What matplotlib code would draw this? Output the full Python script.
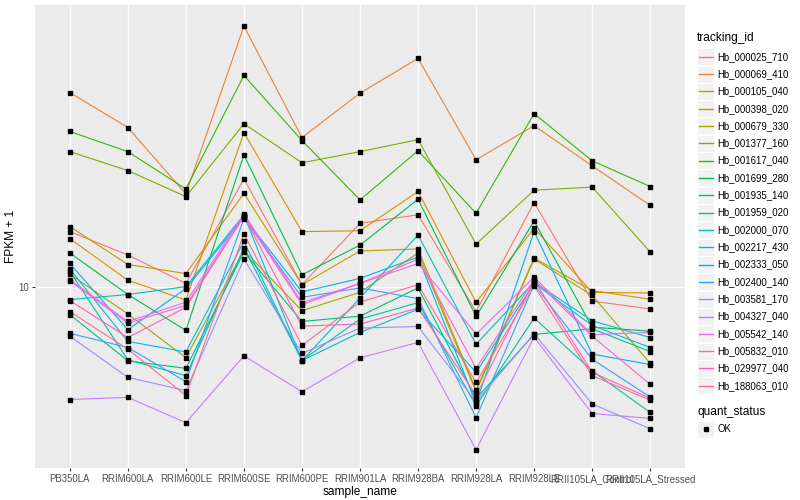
import matplotlib

matplotlib.use("Agg")
import matplotlib.pyplot as plt
from matplotlib.lines import Line2D
from matplotlib.patches import Rectangle

plt.rcParams["font.family"] = ["Liberation Sans", "DejaVu Sans"]

samples = [
    "PB350LA", "RRIM600LA", "RRIM600LE", "RRIM600SE", "RRIM600PE", "RRIM901LA",
    "RRIM928BA", "RRIM928LA", "RRIM928LE", "RRII105LA_Control", "RRII105LA_Stressed",
]

tracking_ids = [
    "Hb_000025_710", "Hb_000069_410", "Hb_000105_040", "Hb_000398_020", "Hb_000679_330",
    "Hb_001377_160", "Hb_001617_040", "Hb_001699_280", "Hb_001935_140", "Hb_001959_020",
    "Hb_002000_070", "Hb_002217_430", "Hb_002333_050", "Hb_002400_140", "Hb_003581_170",
    "Hb_004327_040", "Hb_005542_140", "Hb_005832_010", "Hb_029977_040", "Hb_188063_010",
]

# FPKM + 1, one list per tracking_id, in sample order
fpkm = [
    [15.3, 12.8, 10.3, 22.9, 10.2, 16.3, 17.4, 8.3, 19.1, 9.0, 8.47],
    [44.3, 33.9, 20.4, 73.6, 31.4, 44.1, 57.5, 26.5, 34.4, 25.3, 18.7],
    [14.5, 10.55, 9.07, 32.6, 15.3, 15.4, 20.8, 8.91, 15.7, 9.62, 9.57],
    [15.9, 11.9, 11.1, 20.5, 10.2, 13.2, 13.4, 4.56, 12.5, 9.75, 9.12],
    [11.05, 8.15, 5.84, 13.25, 8.36, 9.62, 13.0, 4.50, 12.4, 9.40, 5.59],
    [28.2, 24.4, 20.0, 34.9, 25.9, 28.2, 30.9, 13.9, 21.0, 21.5, 13.1],
    [32.9, 28.2, 21.2, 50.5, 30.7, 19.5, 28.4, 17.6, 37.7, 26.3, 21.6],
    [13.0, 9.46, 7.19, 27.5, 11.0, 13.8, 19.6, 8.0, 16.6, 7.37, 7.15],
    [8.11, 5.70, 5.38, 13.1, 7.70, 8.02, 9.95, 4.27, 6.97, 7.28, 6.12],
    [11.3, 5.74, 5.09, 13.5, 5.72, 7.84, 8.89, 4.04, 7.91, 5.28, 3.84],
    [9.10, 9.46, 10.05, 17.4, 5.70, 9.21, 14.9, 6.47, 10.4, 7.74, 6.81],
    [11.5, 6.61, 6.10, 14.2, 5.71, 7.08, 8.45, 5.22, 10.3, 7.47, 6.31],
    [12.0, 7.23, 9.90, 17.1, 9.65, 10.7, 12.6, 4.11, 15.3, 6.00, 5.54],
    [7.03, 6.31, 4.86, 16.9, 9.26, 9.95, 9.17, 3.69, 10.2, 5.77, 4.32],
    [6.88, 5.02, 4.54, 12.4, 6.03, 7.32, 7.41, 4.17, 7.01, 4.10, 3.39],
    [4.24, 4.31, 3.55, 5.92, 4.50, 5.83, 6.56, 2.89, 6.83, 3.81, 3.67],
    [10.6, 7.70, 8.93, 17.5, 8.89, 10.3, 12.0, 6.99, 10.8, 6.96, 7.08],
    [10.5, 7.60, 8.71, 17.2, 8.76, 10.3, 12.4, 5.38, 10.6, 6.88, 4.76],
    [9.03, 6.81, 8.58, 17.2, 7.43, 7.55, 8.53, 4.37, 10.55, 5.22, 4.28],
    [8.30, 6.23, 4.37, 15.05, 6.41, 8.93, 10.2, 4.83, 10.1, 5.09, 4.22],
]

colors = [
    "#F8766D", "#EA8331", "#D89000", "#C09B00", "#A3A500", "#7CAE00", "#39B600",
    "#00BB4E", "#00BF7D", "#00C1A3", "#00BFC4", "#00BAE0", "#00B0F6", "#35A2FF",
    "#9590FF", "#C77CFF", "#E76BF3", "#FA62DB", "#FF62BC", "#FF6C91",
]

fig = plt.figure(figsize=(8, 5), dpi=100)
ax = fig.add_axes([35 / 800, 1 - 468 / 500, 650 / 800, 463 / 500])
ax.set_facecolor("#EBEBEB")

x = list(range(len(samples)))
for vals, col in zip(fpkm, colors):
    ax.plot(x, vals, color=col, lw=0.8, zorder=2)
for vals in fpkm:
    ax.plot(x, vals, "s", color="black", ms=2.3, zorder=3, lw=0)

ax.set_yscale("log")
ax.set_ylim(2.512, 86.5)
ax.set_xlim(-0.6, 10.6)
ax.set_yticks([10])
ax.set_yticklabels(["10"])
ax.yaxis.set_minor_locator(matplotlib.ticker.NullLocator())
ax.set_xticks(x)
ax.set_xticklabels(samples)
ax.grid(True, color="white", lw=1.0, zorder=0)
ax.set_axisbelow(True)
for s in ax.spines.values():
    s.set_visible(False)
ax.tick_params(axis="both", colors="#333333", labelcolor="#4D4D4D", labelsize=6.9,
               length=2.5, width=0.8, pad=2)
ax.set_xlabel("sample_name", fontsize=8.6, labelpad=1)
ax.set_ylabel("FPKM + 1", fontsize=8.6, labelpad=1)

# legend, ggplot style
W, H = 800, 500
fig.text(697 / W, 1 - 38 / H, "tracking_id", fontsize=8.6, va="center", ha="left")
for i, (name, col) in enumerate(zip(tracking_ids, colors)):
    yc = 56.7 + i * 17.32
    fig.patches.append(Rectangle((697 / W, 1 - (yc + 8.5) / H), 17 / W, 17 / H,
                                 transform=fig.transFigure, facecolor="#F2F2F2",
                                 edgecolor="white", lw=0.8, zorder=1))
    fig.lines.append(Line2D([699 / W, 713 / W], [1 - yc / H, 1 - yc / H],
                            transform=fig.transFigure, color=col, lw=1.0, zorder=3))
    fig.text(717 / W, 1 - yc / H, name, fontsize=6.9, va="center", ha="left")

fig.text(697 / W, 1 - 412 / H, "quant_status", fontsize=8.6, va="center", ha="left")
fig.patches.append(Rectangle((697 / W, 1 - (429 + 8.5) / H), 17 / W, 17 / H,
                             transform=fig.transFigure, facecolor="#F2F2F2",
                             edgecolor="white", lw=0.8, zorder=1))
fig.lines.append(Line2D([705.5 / W], [1 - 429 / H], transform=fig.transFigure,
                        marker="s", color="black", ms=2.3, lw=0, zorder=3))
fig.text(717 / W, 1 - 429 / H, "OK", fontsize=6.9, va="center", ha="left")

fig.savefig("out.png", dpi=100)
